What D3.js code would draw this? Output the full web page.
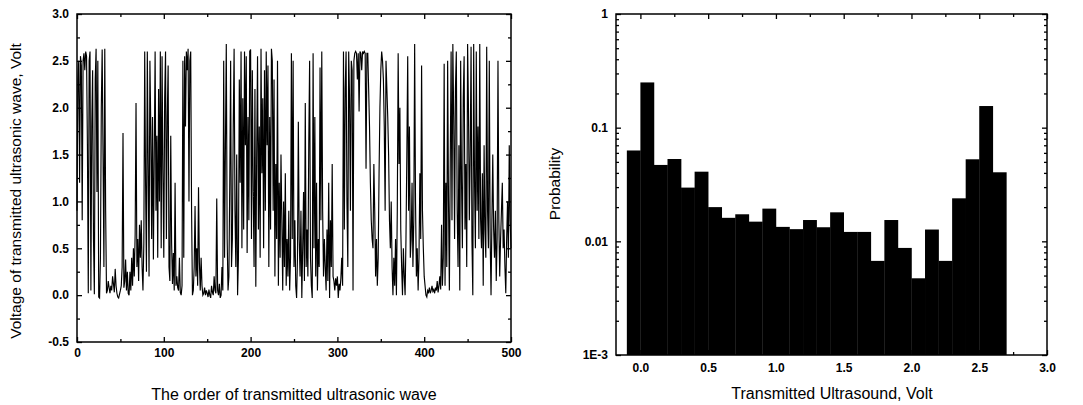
<!DOCTYPE html>
<html lang="en">
<head>
<meta charset="UTF-8">
<title>Transmitted ultrasonic wave</title>
<script src="https://d3js.org/d3.v7.min.js"></script>
<style>
  body { margin: 0; background: #fff; }
  text { font-family: "Liberation Sans", Arial, sans-serif; fill: #000; }
</style>
</head>
<body>
<script>
// left panel: voltage of each transmitted wave
var voltage = [
  0.9, 2.3, 2.5, 1.2, 2.55, 2.45, 0.8, 2.5, 2.58, 2.4,
  2.6, 2.55, 1.6, 0.02, 2.5, 2.6, 0.05, 1.8, 2.4, 0.6,
  0.01, 2.3, 2.63, 1.1, 2.5, -0.02, -0.03, 0.4, 2.0, 2.62,
  1.5, 0.3, 2.63, 0.9, 0.02, 0.05, 0.15, 0.08, 0.02, 0.1,
  0.05, 0.2, 0.12, 0.03, 0.28, 0.1, 0.02, -0.02, -0.03, 0.01,
  0.05, 0.1, 0.3, 1.73, 0.08, 0.15, 0.38, 0.05, 0.25, 0.02,
  0.0, 0.25, 0.05, 0.4, 0.1, 0.5, 0.2, 0.65, 2.05, 0.3,
  0.6, 0.15, 0.75, 0.4, 0.8, 0.3, 0.05, 0.55, 2.6, 1.2,
  0.25, 2.6, 1.4, 0.2, 2.5, 1.8, 0.6, 1.9, 0.38, 1.5,
  2.6, 0.9, 1.7, 0.4, 2.2, 1.0, 2.6, 0.5, 2.55, 1.3,
  0.4, 2.1, 2.6, 0.6, 1.9, 2.45, 0.3, 0.15, 1.7, 0.55,
  0.12, 0.45, 0.05, 1.2, 0.1, 0.2, 0.08, 0.05, 0.4, 0.03,
  0.0, 0.1, 2.5, 0.4, 2.55, 1.8, 2.6, 2.4, 2.63, 1.0,
  2.5, 2.6, 0.9, 0.0, 0.05, 0.3, 0.95, 0.2, 0.5, 0.1,
  1.15, 0.35, 0.05, 0.4, 0.1, 0.0, 0.02, 0.08, 0.0, 0.05,
  0.02, -0.02, 0.06, 0.0, -0.03, 0.1, 0.03, 0.0, 0.2, 0.05,
  0.02, 1.03, 0.05, 0.0, 0.12, -0.03, 0.0, 0.3, 0.05, 2.5,
  0.4, 1.6, 2.68, 0.6, 0.05, 0.2, 1.2, 2.5, 0.3, 0.6,
  1.8, 2.63, 0.9, 0.3, 1.5, 0.0, 0.4, 2.3, 1.2, 2.6,
  0.5, 2.1, 0.7, 2.6, 1.6, 2.55, 0.45, 1.9, 0.8, 2.6,
  2.62, 0.6, 2.4, 1.1, 0.3, 2.2, 0.09, 1.5, 2.55, 0.7,
  1.8, 0.4, 2.63, 1.3, 2.1, 0.5, 2.4, 0.9, 2.6, 1.6,
  2.45, 0.3, 1.9, 0.7, 2.63, 2.5, 0.9, 2.3, 0.2, 1.4,
  0.6, 2.5, 0.1, 1.2, 0.4, 1.5, 0.8, 0.05, 1.0, 0.3,
  1.3, 0.1, 0.6, 0.2, 0.9, 0.05, 0.4, 2.58, 0.6, 2.5,
  0.3, 0.8, 0.1, -0.03, 0.4, 1.85, 0.6, 0.2, 0.9, -0.03,
  0.5, 1.1, 0.15, 2.05, 0.3, 0.7, 0.2, 1.6, 2.5, 0.4,
  0.1, -0.03, 2.58, 0.5, 1.9, 0.2, 1.2, 0.05, 0.6, 0.3,
  2.43, 0.8, 2.6, 0.9, 0.2, 0.6, 0.3, 0.05, 0.7, 0.15,
  1.2, -0.03, 0.8, 0.3, 1.4, 0.2, 0.15, 0.05, 0.18, 0.1,
  0.2, -0.03, 0.12, 0.05, 0.18, 0.4, 0.1, 2.6, 0.7, 2.2,
  2.6, 1.0, 0.3, 2.6, 2.1, 0.9, 2.5, 2.4, 0.05, 2.5,
  2.58, 2.6, 2.58, 2.3, 2.58, 1.96, 2.6, 2.58, 2.4, 2.6,
  2.58, 2.6, 2.58, 1.35, 2.58, 2.58, 2.2, 1.8, 1.2, 0.8,
  0.6, 0.5, 1.4, 0.9, 0.2, 0.6, 0.1, 0.4, 1.3, 2.0,
  2.4, 2.6, 2.5, 2.3, 1.8, 0.9, 2.5, 2.2, 1.9, 1.5,
  0.8, 0.5, 1.0, 0.3, 0.0, 0.4, 0.1, 0.6, 0.0, 0.9,
  2.58, 1.4, 2.0, 0.7, 0.3, 0.0, 0.5, 0.2, 0.0, 0.6,
  1.5, 2.55, 0.9, 1.8, 0.4, 0.6, 1.2, 0.3, 0.8, 2.68,
  1.0, 0.2, 0.5, 0.05, 0.4, 1.3, 0.6, 2.45, 0.9, 0.5,
  0.2, 0.1, 0.0, -0.02, 0.05, 0.03, 0.08, 0.02, 0.05, 0.1,
  0.04, 0.06, 0.02, 0.08, 0.05, 0.15, 0.03, 0.1, 0.2, 0.06,
  0.75, 0.1, 0.4, 2.47, 0.1, 1.2, 0.3, 2.5, 1.0, 0.05,
  1.4, 2.6, 0.8, 2.68, 1.9, 0.6, 2.2, 2.6, 0.9, 0.3,
  1.6, 0.05, 2.5, 1.2, 0.5, 2.1, 2.55, 0.7, 1.4, 0.3,
  2.68, 2.0, 0.8, 1.5, 2.65, 0.6, 0.0, 2.68, 1.2, 0.5,
  2.6, 0.9, 1.8, 0.6, 2.68, 0.8, 0.5, 1.3, 0.1, 1.6,
  0.7, 0.4, 2.65, 0.9, 0.5, 2.5, 0.6, 0.0, 0.8, 1.5,
  0.7, 0.4, 0.9, 0.15, 0.6, 2.5, 0.8, 0.2, 0.6, 0.9,
  1.2, 0.5, 0.7, 0.3, 0.02, 0.6, 1.0, 0.4, 1.6, 0.8,
  0.5
];
var leftXTicks = [0, 100, 200, 300, 400, 500];
var leftXMinor = [50, 150, 250, 350, 450];
var leftYTicks = [-0.5, 0.0, 0.5, 1.0, 1.5, 2.0, 2.5, 3.0];
var leftYMinor = [-0.25, 0.25, 0.75, 1.25, 1.75, 2.25, 2.75];

// right panel: histogram, bins of 0.1 Volt
var binStart = [-0.1, 0.0, 0.1, 0.2, 0.3, 0.4, 0.5, 0.6, 0.7, 0.8, 0.9, 1.0, 1.1, 1.2,
                1.3, 1.4, 1.5, 1.6, 1.7, 1.8, 1.9, 2.0, 2.1, 2.2, 2.3, 2.4, 2.5, 2.6];
var probability = [0.063, 0.25, 0.047, 0.053, 0.0297, 0.041, 0.020, 0.0161, 0.0173, 0.0149,
                   0.0194, 0.0134, 0.0128, 0.0154, 0.0133, 0.018, 0.0121, 0.0121, 0.00673, 0.0154,
                   0.00875, 0.00473, 0.0127, 0.00673, 0.0239, 0.0527, 0.155, 0.0405];
var binWidth = 0.1;
var rightXTicks = [0.0, 0.5, 1.0, 1.5, 2.0, 2.5, 3.0];
var rightXMinor = [0.25, 0.75, 1.25, 1.75, 2.25, 2.75];
var rightYTicks = [0.001, 0.01, 0.1, 1];
var rightYLabels = ["1E-3", "0.01", "0.1", "1"];

var w = 1083;
var h = 405;

var svg = d3.select("body")
    .append("svg")
    .attr("width", w)
    .attr("height", h);

// one decimal, plain hyphen for negatives like the original
var fmt1 = function(d) { return d.toFixed(1); };

// draws inward ticks on all four sides of a box
function boxAxes(x, y, major, minor, yMajor, yMinor, xFmt, yFmt, padX, padY) {
    var x0 = x.range()[0], x1 = x.range()[1];
    var y0 = y.range()[1], y1 = y.range()[0];
    var sides = [
        [d3.axisBottom, x, major, minor, "translate(0," + y1 + ")", xFmt, padX],
        [d3.axisTop, x, major, minor, "translate(0," + y0 + ")", null, 0],
        [d3.axisLeft, y, yMajor, yMinor, "translate(" + x0 + ",0)", yFmt, padY],
        [d3.axisRight, y, yMajor, yMinor, "translate(" + x1 + ",0)", null, 0]
    ];
    sides.forEach(function(s) {
        var g = svg.append("g").attr("transform", s[4]);
        g.call(s[0](s[1]).tickValues(s[2]).tickSizeInner(-5).tickSizeOuter(0)
            .tickPadding(s[6]).tickFormat(s[5] ? s[5] : ""));
        g.append("g").call(s[0](s[1]).tickValues(s[3]).tickSizeInner(-3).tickSizeOuter(0).tickFormat(""));
        g.selectAll(".domain").remove();
        g.selectAll("line").attr("stroke", "#000").attr("stroke-width", 1.3);
        g.selectAll("text").attr("font-size", "12px").attr("font-weight", "bold")
            .attr("font-family", '"Liberation Sans", Arial, sans-serif');
    });
    svg.append("rect")
        .attr("x", x0).attr("y", y0)
        .attr("width", x1 - x0).attr("height", y1 - y0)
        .attr("fill", "none").attr("stroke", "#000").attr("stroke-width", 1.5);
}

// ---- left panel ----
var xL = d3.scaleLinear().domain([0, 500]).range([77, 511]);
var yL = d3.scaleLinear().domain([-0.5, 3]).range([342, 14]);

var line = d3.line()
    .x(function(d, i) { return xL(i); })
    .y(function(d) { return yL(d); });

svg.append("path")
    .datum(voltage)
    .attr("d", line)
    .attr("fill", "none")
    .attr("stroke", "#000")
    .attr("stroke-width", 1.15);

boxAxes(xL, yL, leftXTicks, leftXMinor, leftYTicks, leftYMinor,
    d3.format("d"), fmt1, 6, 8);

svg.append("text")
    .attr("transform", "translate(21,191) rotate(-90)")
    .attr("text-anchor", "middle")
    .attr("font-size", "15.5px")
    .text("Voltage of transmitted ultrasonic wave, Volt");

svg.append("text")
    .attr("x", 294).attr("y", 400)
    .attr("text-anchor", "middle")
    .attr("font-size", "16px")
    .text("The order of transmitted ultrasonic wave");

// ---- right panel ----
var xR = d3.scaleLinear().domain([-0.18, 3.0]).range([616, 1047]);
var yR = d3.scaleLog().domain([0.001, 1]).range([355, 14]);

svg.selectAll(".bar")
    .data(probability)
    .enter()
    .append("rect")
    .attr("class", "bar")
    .attr("x", function(d, i) { return xR(binStart[i]); })
    .attr("y", function(d) { return yR(d); })
    .attr("width", function(d, i) { return xR(binStart[i] + binWidth) - xR(binStart[i]) + 0.3; })
    .attr("height", function(d) { return yR(0.001) - yR(d); })
    .attr("fill", "#000");

var logMinor = yR.ticks().filter(function(t) {
    return rightYTicks.indexOf(t) < 0;
});

boxAxes(xR, yR, rightXTicks, rightXMinor, rightYTicks, logMinor,
    fmt1, function(d, i) { return rightYLabels[i]; }, 8, 8);

svg.append("text")
    .attr("transform", "translate(560,184) rotate(-90)")
    .attr("text-anchor", "middle")
    .attr("font-size", "15.5px")
    .text("Probability");

svg.append("text")
    .attr("x", 832).attr("y", 399)
    .attr("text-anchor", "middle")
    .attr("font-size", "16px")
    .text("Transmitted Ultrasound, Volt");
</script>
</body>
</html>
